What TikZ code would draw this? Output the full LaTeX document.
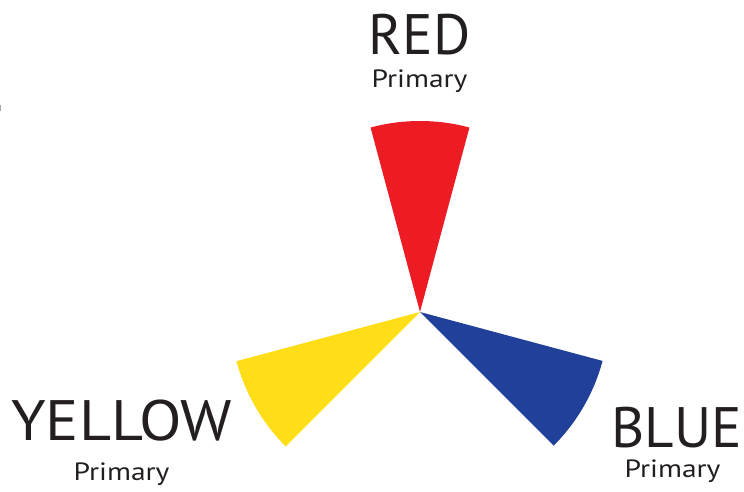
\documentclass[tikz,border=0pt]{standalone}
\usepackage{fontspec}
\setmainfont{PT Sans}
\definecolor{cred}{HTML}{ED1C24}
\definecolor{cblue}{HTML}{21409A}
\definecolor{cyellow}{HTML}{FFDE17}
\definecolor{ctext}{HTML}{231F20}
\newcommand{\wideP}{\scalebox{1.18}[1]{Primary}}
\begin{document}
\begin{tikzpicture}[x=1pt,y=1pt,
  big/.style={anchor=base,inner sep=0pt,text=ctext,font=\fontsize{57}{57}\selectfont},
  small/.style={anchor=base,inner sep=0pt,text=ctext,font=\fontsize{25}{25}\selectfont}]
\useasboundingbox (0,0) rectangle (744,491);
\coordinate (c) at (420,179);
\fill[cred] (c) -- ++(75:191) arc[start angle=75,end angle=105,radius=191] -- cycle;
\fill[cblue] (c) -- ++(-45:189) arc[start angle=-45,end angle=-15,radius=189] -- cycle;
\fill[cyellow] (c) -- ++(195:190) arc[start angle=195,end angle=225,radius=190] -- cycle;
\fill[gray!70] (0,380) rectangle (1.2,386);
\node[big] (red) at (419.5,436) {RED};
\node[small] (redp) at (419.5,403) {\wideP};
\node[big] (yellow) at (121.5,51) {\scalebox{1.09}[1]{YELLOW}};
\node[small] (yellowp) at (121.5,11) {\wideP};
\node[big] (blue) at (676.5,44) {BLUE};
\node[small] (bluep) at (672.5,14) {\wideP};
\end{tikzpicture}
\end{document}
